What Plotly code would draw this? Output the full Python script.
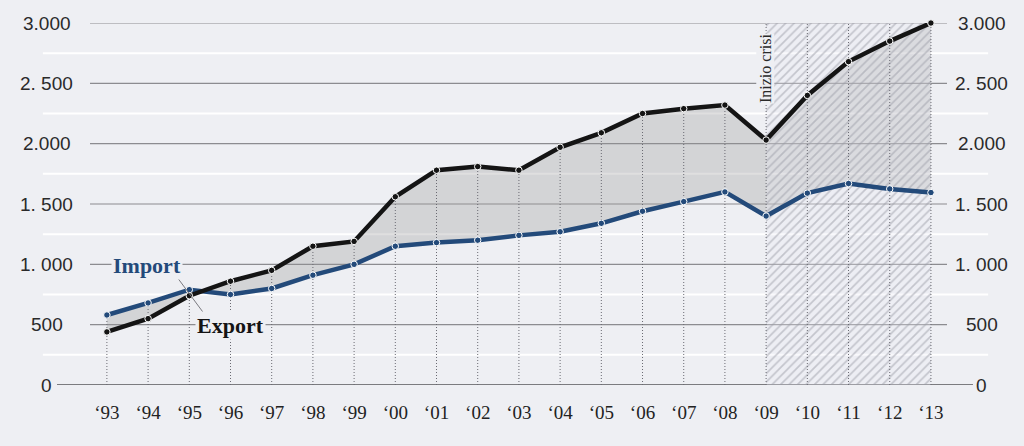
import plotly.graph_objects as go

years = list(range(1993, 2014))
year_labels = ["‘93", "‘94", "‘95", "‘96", "‘97", "‘98", "‘99", "‘00", "‘01", "‘02",
               "‘03", "‘04", "‘05", "‘06", "‘07", "‘08", "‘09", "‘10", "‘11", "‘12", "‘13"]
export_vals = [440, 550, 740, 860, 950, 1150, 1190, 1560, 1780, 1810,
               1780, 1970, 2090, 2250, 2290, 2320, 2030, 2400, 2680, 2850, 3000]
import_vals = [580, 680, 790, 750, 800, 910, 1000, 1150, 1180, 1200,
               1240, 1270, 1340, 1440, 1520, 1600, 1400, 1590, 1670, 1625, 1595]
y_ticks = [0, 500, 1000, 1500, 2000, 2500, 3000]
y_tick_labels = ["0", "500", "1. 000", "1. 500", "2.000", "2. 500", "3.000"]
y_minor = [250, 750, 1250, 1750, 2250, 2750]
crisis_start, crisis_end, crisis_top = 2009, 2013, 3000

BG = "#eeeff3"
BLUE = "#234a7a"
BLACK = "#141414"

fig = go.Figure()

# fill between the two series
fig.add_trace(go.Scatter(x=years, y=import_vals, mode="lines", line=dict(width=0),
                         hoverinfo="skip"))
fig.add_trace(go.Scatter(x=years, y=export_vals, mode="lines", line=dict(width=0),
                         fill="tonexty", fillcolor="rgba(150,150,150,0.3)", hoverinfo="skip"))

# crisis hatched band
fig.add_trace(go.Scatter(x=[crisis_start, crisis_end, crisis_end, crisis_start, crisis_start],
                         y=[0, 0, crisis_top, crisis_top, 0], mode="lines", line=dict(width=0),
                         fill="toself", fillcolor="rgba(236,238,246,0.3)",
                         fillpattern=dict(shape="/", fgcolor="#9a9ca6", size=6, solidity=0.28,
                                          fillmode="overlay"),
                         hoverinfo="skip"))

# dotted verticals
vx, vy = [], []
for yr, e, i in zip(years, export_vals, import_vals):
    top = crisis_top if yr >= crisis_start else max(e, i)
    vx += [yr, yr, None]
    vy += [0, top, None]
fig.add_trace(go.Scatter(x=vx, y=vy, mode="lines",
                         line=dict(color="#6a6a72", width=1, dash="1px,2px"), hoverinfo="skip"))

# series
fig.add_trace(go.Scatter(x=years, y=import_vals, mode="lines+markers", name="Import",
                         line=dict(color=BLUE, width=4.5),
                         marker=dict(size=6.5, color=BLUE, line=dict(color="white", width=1)),
                         cliponaxis=False))
fig.add_trace(go.Scatter(x=years, y=export_vals, mode="lines+markers", name="Export",
                         line=dict(color=BLACK, width=4.5),
                         marker=dict(size=6.5, color=BLACK, line=dict(color="white", width=1)),
                         cliponaxis=False))

shapes = []
for v in y_minor:
    shapes.append(dict(type="line", xref="paper", yref="y", x0=-0.055, x1=1.048, y0=v, y1=v,
                       line=dict(color="white", width=2), layer="below"))
for v in y_ticks:
    if v == 0:
        shapes.append(dict(type="line", xref="paper", yref="y", x0=-0.0385, x1=1.0303, y0=v, y1=v,
                           line=dict(color="#555559", width=1.6), layer="below"))
    else:
        shapes.append(dict(type="line", xref="paper", yref="y", x0=0, x1=1, y0=v, y1=v,
                           line=dict(color="#8c8c90", width=1.2), layer="below"))
# leader line for labels
shapes.append(dict(type="line", xref="x", yref="y", x0=1994.70, y0=895, x1=1995.33, y1=605,
                   line=dict(color="#7a7a80", width=1), layer="above"))

annotations = []
for v, t in zip(y_ticks, y_tick_labels):
    for xp in (-0.0502, 1.0408):
        annotations.append(dict(xref="paper", yref="y", x=xp, y=v, text=t, showarrow=False,
                                xanchor="center", yanchor="middle",
                                font=dict(family="Liberation Sans, Arial", size=19, color="#2a2a2a")))

annotations.append(dict(xref="x", yref="y", x=1993.97, y=994, text="<b>Import</b>", showarrow=False,
                        font=dict(family="Liberation Serif, Times New Roman", size=22, color=BLUE),
                        bgcolor=BG, borderpad=1))
annotations.append(dict(xref="x", yref="y", x=1996.01, y=489, text="<b>Export</b>", showarrow=False,
                        font=dict(family="Liberation Serif, Times New Roman", size=22, color=BLACK),
                        bgcolor=BG, borderpad=1))
annotations.append(dict(xref="x", yref="y", x=crisis_start - 0.03, y=2626, text="Inizio crisi",
                        showarrow=False, textangle=-90,
                        font=dict(family="Liberation Serif, Times New Roman", size=16, color="#2a2a2a"),
                        bgcolor=BG, borderpad=0))

fig.update_layout(
    width=1024, height=446,
    margin=dict(l=90, r=77, t=23, b=61),
    paper_bgcolor=BG, plot_bgcolor=BG,
    showlegend=False,
    shapes=shapes, annotations=annotations,
    xaxis=dict(range=[1992.59, 2013.39], tickvals=years, ticktext=year_labels,
               showgrid=False, zeroline=False, showline=False, ticks="",
               ticklabelstandoff=14,
               tickfont=dict(family="Liberation Serif, Times New Roman", size=19, color="#222")),
    yaxis=dict(range=[0, 3000], showgrid=False, zeroline=False, showticklabels=False),
)

fig.write_html("out.html", config={"displayModeBar": False},
               post_script="document.body.style.margin='0';document.body.style.background='#eeeff3';")
